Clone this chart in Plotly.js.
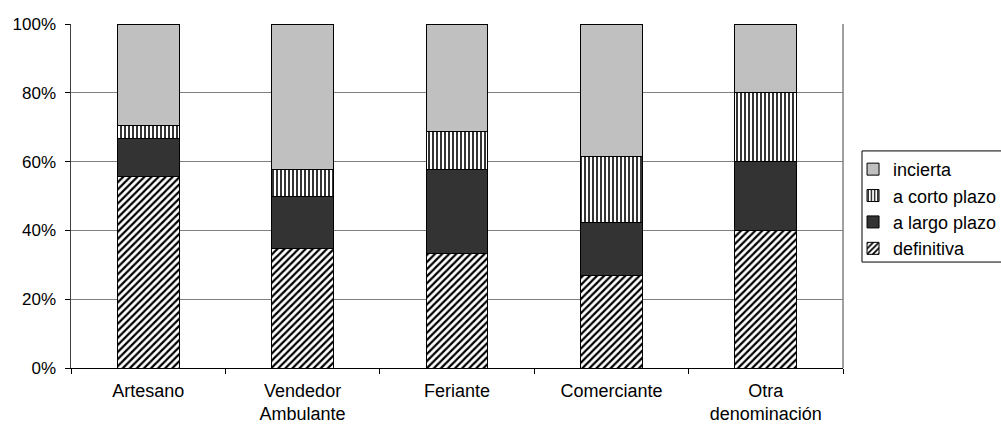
<!DOCTYPE html>
<html>
<head>
<meta charset="utf-8">
<script src="https://cdn.plot.ly/plotly-3.0.1.min.js"></script>
<style>html,body{margin:0;padding:0;background:#fff;}#chart{width:1001px;height:425px;}</style>
</head>
<body>
<div id="chart"></div>
<script>
var categories = ['Artesano', 'Vendedor<br>Ambulante', 'Feriante', 'Comerciante', 'Otra<br>denominación'];
var definitiva = [55.6, 34.6, 33.3, 26.9, 40.0];
var largoPlazo = [11.1, 15.4, 24.4, 15.4, 20.0];
var cortoPlazo = [3.7, 7.7, 11.1, 19.2, 20.0];
var incierta = [29.6, 42.3, 31.1, 38.5, 20.0];
var yTickVals = [0, 20, 40, 60, 80, 100];
var yTickText = ['0%', '20%', '40%', '60%', '80%', '100%'];

var FONT = '"Liberation Sans", Arial, sans-serif';
var line = {color: '#000', width: 1};

var traces = [
  {name: 'definitiva', type: 'bar', x: categories, y: definitiva,
   marker: {color: '#ffffff', line: line, pattern: {shape: '/', fgcolor: '#000', bgcolor: '#fff', size: 5, solidity: 0.45}}},
  {name: 'a largo plazo', type: 'bar', x: categories, y: largoPlazo,
   marker: {color: '#333333', line: line}},
  {name: 'a corto plazo', type: 'bar', x: categories, y: cortoPlazo,
   marker: {color: '#ffffff', line: line, pattern: {shape: '|', fgcolor: '#000', bgcolor: '#fff', size: 4, solidity: 0.4}}},
  {name: 'incierta', type: 'bar', x: categories, y: incierta,
   marker: {color: '#c0c0c0', line: line}}
];

var layout = {
  width: 1001, height: 425,
  margin: {l: 71, r: 158, t: 24, b: 57, autoexpand: false},
  paper_bgcolor: '#fff', plot_bgcolor: '#fff',
  barmode: 'stack', bargap: 0.6,
  font: {family: FONT, size: 17, color: '#000'},
  showlegend: true,
  legend: {x: 1.013, xanchor: 'left', y: 0.631, yanchor: 'top', traceorder: 'reversed',
           borderwidth: 0, bgcolor: 'rgba(0,0,0,0)', font: {family: FONT, size: 18, color: '#000'}},
  xaxis: {type: 'category', range: [-0.5, 4.5], showgrid: false, showline: true, linecolor: '#000', linewidth: 1,
          ticks: 'outside', tickson: 'boundaries', ticklen: 5, tickcolor: '#000', ticklabelstandoff: 6,
          tickfont: {family: FONT, size: 18, color: '#000'}, fixedrange: true},
  yaxis: {range: [0, 100], tickmode: 'array', tickvals: yTickVals, ticktext: yTickText, showgrid: true, gridcolor: '#808080', gridwidth: 1,
          showline: true, linecolor: '#404040', linewidth: 1.5, ticks: 'outside', ticklen: 5, tickcolor: '#000',
          ticklabelstandoff: 5,
          zeroline: false, tickfont: {family: FONT, size: 17, color: '#000'}, fixedrange: true},
  shapes: [
    {type: 'line', xref: 'paper', yref: 'paper', x0: 1, x1: 1, y0: 0, y1: 1, line: {color: '#808080', width: 1.5}},
    {type: 'rect', xref: 'paper', yref: 'paper', x0: 1.0246, x1: 1.25, y0: 0.308, y1: 0.631, line: {color: '#000', width: 1}, fillcolor: 'rgba(0,0,0,0)'}
  ]
};

Plotly.newPlot('chart', traces, layout, {staticPlot: true, displayModeBar: false});
</script>
</body>
</html>
